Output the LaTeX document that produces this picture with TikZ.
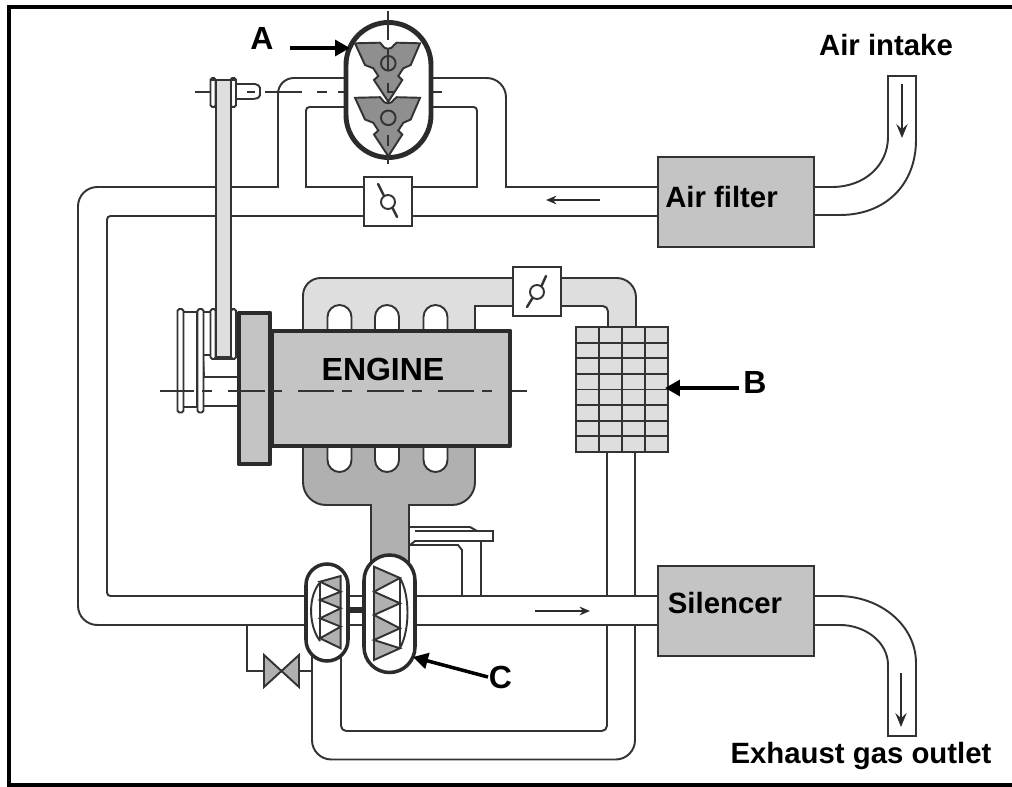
\documentclass[tikz,border=0pt]{standalone}
\usepackage{fontspec}
\setmainfont{Liberation Sans}
\usetikzlibrary{arrows.meta}
\usetikzlibrary{positioning,calc}
\definecolor{linegrey}{HTML}{333333}
\definecolor{heavygrey}{HTML}{2B2B2B}
\definecolor{lightgrey}{HTML}{DEDEDE}
\definecolor{unitgrey}{HTML}{C4C4C4}
\definecolor{exhaustgrey}{HTML}{B0B0B0}
\definecolor{rotorgrey}{HTML}{8F8F8F}
\tikzset{
   pipe/.style={draw=linegrey, line width=1.1pt},
   heavy/.style={draw=heavygrey, line width=2.8pt, line join=round},
   casing/.style={draw=heavygrey, line width=2pt, fill=white},
   axisline/.style={draw=linegrey, line width=0.9pt},
   flowarrow/.style={draw=heavygrey, line width=0.9pt, -{Stealth[length=8pt,width=6.5pt,inset=3pt]}},
   callout/.style={draw=black, line width=2pt, -{Triangle[length=8.5pt,width=9pt]}},
   lbl/.style={font=\bfseries\fontsize{16.7}{20}\selectfont, text=black, anchor=base, inner sep=0pt},
   biglbl/.style={lbl, font=\bfseries\fontsize{18.2}{20}\selectfont},
}
\begin{document}
\begin{tikzpicture}[x=0.02cm,y=-0.02cm]
   \useasboundingbox (0,0) rectangle (1012,787);
   \draw[line width=2.2pt] (1012,7) -- (9,7) -- (9,785) -- (1012,785);

   % air side
   \draw[pipe] (307,625) [rounded corners=11pt] -- (78,625) -- (78,187) [sharp corners] -- (278,187)
       [rounded corners=9pt] -- (278,78) -- (346,78);
   \draw[pipe] (307,596) [rounded corners=2pt] -- (107,596) -- (107,216) [sharp corners] -- (364,216);
   \draw[pipe] (346,107) [rounded corners=2pt] -- (306,107) [sharp corners] -- (306,187) -- (364,187);
   \draw[pipe] (412,187) -- (477,187) [rounded corners=2pt] -- (477,107) -- (432,107);
   \draw[pipe] (432,78) [rounded corners=11pt] -- (506,78) [sharp corners] -- (506,187) -- (658,187);
   \draw[pipe] (412,216) -- (658,216);
   \draw[pipe,fill=white] (364,177) rectangle (412,226);
   \draw[pipe] (388,202) circle[radius=7];
   \draw[pipe,line width=1.4pt,line cap=round] (378,184) -- (383.5,195);
   \draw[pipe,line width=1.4pt,line cap=round] (392.5,208) -- (397,217);

   % air intake and filter
   \draw[pipe] (814,187) -- (832,187) .. controls (865,187) and (888,165) .. (888,137) -- (888,76)
       -- (916,76) -- (916,140) .. controls (916,185) and (885,215) .. (840,215) -- (814,215);
   \draw[flowarrow] (902,84) -- (902,138);
   \draw[pipe,fill=unitgrey] (658,157) rectangle (814,247);
   \node[lbl] (filter) at (721.5,208) {Air filter};
   \node[lbl] (intake) at (886,56) {Air intake};
   \draw[flowarrow,-{Stealth[length=6pt,width=5pt,inset=2pt]}] (600,200) -- (546,200);

   % belt and pulleys
   \draw[pipe,fill=white] (236,84) -- (255,84) [rounded corners=1pt] -- (260,86) -- (260,97) -- (255,99) [sharp corners] -- (236,99);
   \draw[axisline] (195,92) -- (210,92);
   \foreach \xa/\xb in {247/255,265/302,317/327,338/370,405/415,427/442}
      \draw[axisline] (\xa,92) -- (\xb,92);
   \draw[pipe,fill=white] (183,312) rectangle (197,407);
   \draw[pipe,fill=white] (203,312) rectangle (211,355);
   \draw[pipe,fill=white] (203,355) -- (204,377) -- (239,377) -- (239,406) -- (203,406) -- cycle;
   \draw[pipe,fill=white] (215,355) rectangle (232,359);
   \draw[pipe,fill=white,rounded corners=1pt] (177.5,309) rectangle (183.5,412.5);
   \draw[pipe,fill=white,rounded corners=1pt] (197.5,309) rectangle (203.5,412.5);
   \draw[pipe,fill=white,rounded corners=1pt] (210.5,309) rectangle (215.7,359);
   \draw[pipe,fill=white,rounded corners=1pt] (231,309) rectangle (236,359);
   \draw[pipe,fill=white,rounded corners=1pt] (210.5,78) rectangle (215.7,107);
   \draw[pipe,fill=white,rounded corners=1pt] (230.5,78) rectangle (236,107);
   \draw[pipe,fill=lightgrey] (215.7,80) rectangle (231,357);
   \draw[pipe] (210.5,80) -- (236,80);

   % rotor casing
   \draw[heavy,fill=white] (346,65) arc[start angle=180,end angle=360,radius=42.5] -- (431,115)
       arc[start angle=0,end angle=180,radius=42.5] -- cycle;
   \foreach \dy in {54.5,0}
   {
      \draw[pipe,fill=rotorgrey,shift={(0,\dy)}] (355,43.3) -- (380,42.7) -- (382,45)
          .. controls (384,50) and (392,50) .. (394,45) -- (396.7,42.7) -- (420,43.3)
          -- (410.7,65) -- (403.3,68.3) -- (398.3,76) -- (402.3,80) -- (388.3,101.7)
          -- (374,80) -- (378.3,76) -- (373.3,68.3) -- (365,65) -- cycle;
      \draw[pipe,shift={(0,\dy)}] (388.3,63.3) circle[radius=7.3];
   }
   \foreach \ya/\yb in {11/40,48/70,83/93,135/146,157/164}
      \draw[axisline] (388,\ya) -- (388,\yb);
   \draw[axisline] (388,92) -- (395,92);

   % charge cooler side
   \draw[pipe,fill=lightgrey] (303,331) -- (303,312) [rounded corners=10pt] -- (303,278) [sharp corners] -- (513,278)
       -- (513,306) -- (475,306) -- (475,331) -- cycle;
   \foreach \cx in {339.5,387,435.5}
      \draw[pipe,fill=white] ({\cx-12},331) -- ({\cx-12},317) arc[start angle=180,end angle=360,radius=12] -- ({\cx+12},331);
   \draw[pipe,fill=lightgrey] (561,278) [rounded corners=11pt] -- (636,278) [sharp corners] -- (636,327) -- (608,327)
       [rounded corners=3pt] -- (608,306) [sharp corners] -- (561,306) -- cycle;
   \draw[pipe,fill=white] (513,267) rectangle (561,316);
   \draw[pipe] (537,292) circle[radius=7];
   \draw[pipe,line width=1.4pt,line cap=round] (527,307) -- (532.5,298);
   \draw[pipe,line width=1.4pt,line cap=round] (541.5,286) -- (546,276);
   \draw[pipe] (607,452) -- (607,596);
   \draw[pipe] (635,452) -- (635,596);
   \draw[pipe,fill=lightgrey] (576,327) rectangle (668,452);
   \foreach \gx in {599,622,645}
      \draw[pipe] (\gx,327) -- (\gx,452);
   \foreach \gy in {342.6,358.2,373.8,389.5,405,420.7,436.3}
      \draw[pipe] (576,\gy) -- (668,\gy);

   % engine
   \draw[pipe,fill=exhaustgrey] (303,446) [rounded corners=13pt] -- (303,505) [sharp corners] -- (371,505) -- (371,565)
       -- (409,565) -- (409,505) [rounded corners=13pt] -- (475,505) [sharp corners] -- (475,446) -- cycle;
   \foreach \cx in {339.5,387,435.5}
      \draw[pipe,fill=white] ({\cx-12},446) -- ({\cx-12},460) arc[start angle=180,end angle=0,radius=12] -- ({\cx+12},446);
   \draw[heavy,fill=unitgrey] (272,331) rectangle (510,446);
   \draw[heavy,fill=unitgrey] (239,313) rectangle (270,464);
   \foreach \xa/\xb in {160/194,202/212,228/265,272/282,298/334,342/352,367/404,412/422,438/474,482/492,512/527}
      \draw[axisline] (\xa,391) -- (\xb,391);
   \node[biglbl] (engine) at (383,381) {ENGINE};

   % waste gate and return pipe
   \draw[pipe] (409,545) -- (458,545) -- (462,550) -- (462,596);
   \draw[pipe] (481,541) -- (481,596);
   \draw[pipe,fill=white] (409,527) -- (470,527) -- (477,531) -- (493,531) -- (493,541) -- (415,541) -- (409,546) -- cycle;
   \draw[pipe] (415,531) -- (477,531);
   \draw[pipe] (607,625) [rounded corners=3pt] -- (607,731) -- (341,731) [sharp corners] -- (341,650);
   \draw[pipe] (635,625) [rounded corners=11pt] -- (635,759.5) -- (312,759.5) [sharp corners] -- (312,650);
   \draw[pipe] (247,625) -- (247,671) -- (264,671);
   \draw[pipe] (299,671) -- (312,671);
   \draw[pipe,fill=exhaustgrey] (264,655) -- (264,687) -- (299,655) -- (299,687) -- cycle;

   % exhaust pipe and silencer
   \draw[pipe] (415,596) -- (658,596);
   \draw[pipe] (415,625) -- (658,625);
   \draw[pipe] (348,596) -- (364,596);
   \draw[pipe] (348,625) -- (364,625);
   \fill[heavygrey] (348,607) rectangle (364,613);
   \draw[pipe] (814,596) -- (838,596) .. controls (880,596) and (916,625) .. (916,663) -- (916,736)
       -- (888,736) -- (888,665) .. controls (888,642) and (865,625) .. (840,625) -- (814,625);
   \draw[flowarrow] (901,673) -- (901,727);
   \draw[pipe,fill=unitgrey] (658,566) rectangle (814,656);
   \node[lbl] (silencer) at (725,613) {Silencer};
   \node[lbl] (outlet) at (861,763) {Exhaust gas outlet};
   \draw[flowarrow,-{Stealth[length=6pt,width=5pt,inset=2pt]}] (535,611) -- (590,611);

   % turbo charger
   \draw[casing] (306,585) arc[start angle=180,end angle=360,radius=21] -- (348,640)
       arc[start angle=0,end angle=180,radius=21] -- cycle;
   \draw[pipe] (320.7,581.7) .. controls (308,595) and (308,625) .. (320,641);
   \draw[pipe,fill=exhaustgrey] (340.7,576) -- (320,581.7) -- (340.7,591.7) -- (320,600) -- (340.7,608.3)
       -- (320,618.3) -- (340.7,626.7) -- (320,638.3) -- (340.7,648.3) -- cycle;
   \draw[pipe] (320,581.7) -- (320,638.3);
   \draw[casing] (364,580.5) arc[start angle=180,end angle=360,radius=25.5] -- (415,647)
       arc[start angle=0,end angle=180,radius=25.5] -- cycle;
   \draw[pipe] (400,578) .. controls (410,595) and (410,630) .. (400,648);
   \draw[pipe,fill=exhaustgrey] (374,566.7) -- (400,578) -- (374,591.7) -- (400,603.3) -- (374,615)
       -- (400,628.3) -- (374,640) -- (400,648.3) -- (374,660) -- cycle;
   \draw[pipe] (400,578) -- (400,648.3);

   % call outs
   \node[biglbl] (labA) at (262,50) {A};
   \node[biglbl] (labB) at (755,394) {B};
   \node[biglbl] (labC) at (500.5,688) {C};
   \coordinate (tipA) at (350,48);
   \coordinate (tipB) at (665,388);
   \coordinate (tipC) at (413,657);
   \coordinate (endA) at (290,48);
   \coordinate (endB) at (739,388);
   \coordinate (endC) at (488,677);
   \draw[callout] (endA) -- (tipA);
   \draw[callout] (endB) -- (tipB);
   \draw[callout] (endC) -- (tipC);
\end{tikzpicture}
\end{document}
